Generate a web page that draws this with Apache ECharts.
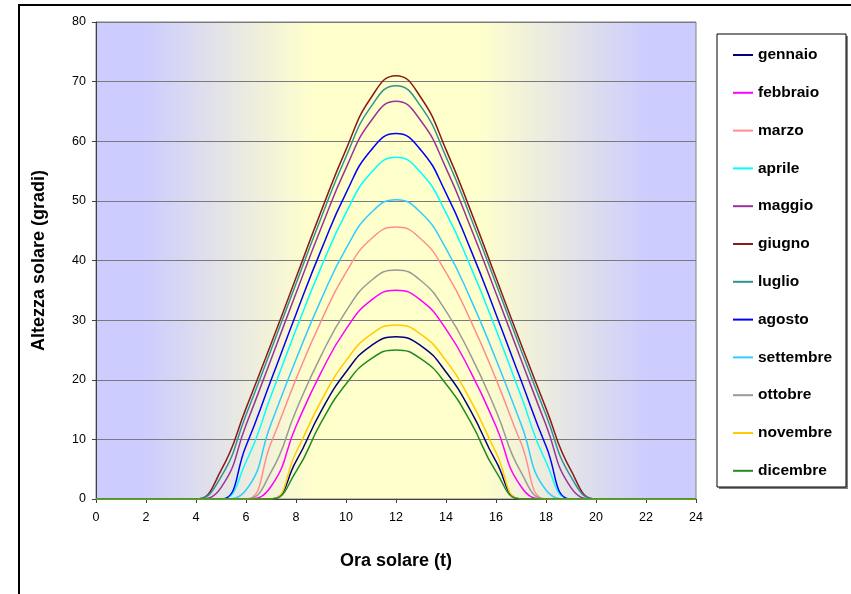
<!DOCTYPE html>
<html>
<head>
<meta charset="utf-8">
<script src="https://cdn.jsdelivr.net/npm/echarts@6/dist/echarts.min.js"></script>
<style>
  html, body { margin: 0; padding: 0; background: #fff; }
  #chart { width: 851px; height: 594px; }
</style>
</head>
<body>
<div id="chart"></div>
<script>
// ore 0..24
const hours = [0,1,2,3,4,5,6,7,8,9,10,11,12,13,14,15,16,17,18,19,20,21,22,23,24];
const xTicks = [0,2,4,6,8,10,12,14,16,18,20,22,24];
const yTicks = [0,10,20,30,40,50,60,70,80];

// altezza solare (gradi), ora per ora
const gennaio   = [0,0,0,0,0,0,0,0,6.3,14.7,21.3,25.7,27.2,25.7,21.3,14.7,6.3,0,0,0,0,0,0,0,0];
const febbraio  = [0,0,0,0,0,0,0,2.1,12.2,21.2,28.5,33.3,35.0,33.3,28.5,21.2,12.2,2.1,0,0,0,0,0,0,0];
const marzo     = [0,0,0,0,0,0,0,9.4,20.1,29.8,38.0,43.6,45.6,43.6,38.0,29.8,20.1,9.4,0,0,0,0,0,0,0];
const aprile    = [0,0,0,0,0,0,6.2,17.3,28.4,38.8,48.0,54.7,57.3,54.7,48.0,38.8,28.4,17.3,6.2,0,0,0,0,0,0];
const maggio    = [0,0,0,0,0,1.9,12.4,23.4,34.5,45.4,55.5,63.4,66.7,63.4,55.5,45.4,34.5,23.4,12.4,1.9,0,0,0,0,0];
const giugno    = [0,0,0,0,0,4.8,15.2,26.0,37.1,48.2,58.6,67.3,71.0,67.3,58.6,48.2,37.1,26.0,15.2,4.8,0,0,0,0,0];
const luglio    = [0,0,0,0,0,3.7,14.1,25.0,36.1,47.1,57.4,65.8,69.3,65.8,57.4,47.1,36.1,25.0,14.1,3.7,0,0,0,0,0];
const agosto    = [0,0,0,0,0,0,8.9,19.9,31.0,41.7,51.3,58.5,61.3,58.5,51.3,41.7,31.0,19.9,8.9,0,0,0,0,0,0];
const settembre = [0,0,0,0,0,0,1.5,12.6,23.4,33.4,42.0,48.0,50.2,48.0,42.0,33.4,23.4,12.6,1.5,0,0,0,0,0,0];
const ottobre   = [0,0,0,0,0,0,0,4.5,14.8,24.0,31.5,36.6,38.4,36.6,31.5,24.0,14.8,4.5,0,0,0,0,0,0,0];
const novembre  = [0,0,0,0,0,0,0,0,7.8,16.4,23.2,27.6,29.2,27.6,23.2,16.4,7.8,0,0,0,0,0,0,0,0];
const dicembre  = [0,0,0,0,0,0,0,0,4.6,12.8,19.3,23.5,25.0,23.5,19.3,12.8,4.6,0,0,0,0,0,0,0,0];

const months = ['gennaio','febbraio','marzo','aprile','maggio','giugno','luglio','agosto','settembre','ottobre','novembre','dicembre'];
const values = [gennaio,febbraio,marzo,aprile,maggio,giugno,luglio,agosto,settembre,ottobre,novembre,dicembre];
const colors = ['#000080','#ff00ff','#ff8f8f','#00ffff','#993399','#8b1a1a','#2e9494','#0000ff','#33ccff','#999999','#ffcc00','#228b22'];

const font = '"Liberation Sans", Arial, sans-serif';

let chartDom = document.getElementById('chart');
let myChart = echarts.init(chartDom);

let series = months.map(function (m, i) {
  return {
    name: m,
    type: 'line',
    smooth: true,
    symbol: 'none',
    color: colors[i],
    lineStyle: { width: 1.5, color: colors[i] },
    data: hours.map(function (h, k) { return [h, values[i][k]]; }),
  };
});

let option = {
  animation: false,
  textStyle: { fontFamily: font },
  graphic: [
    // cornice esterna
    { type: 'rect', shape: { x: 19, y: 5, width: 845, height: 600 },
      style: { fill: 'none', stroke: '#000', lineWidth: 2 }, z: 0 },
    // riquadro legenda con ombra
    { type: 'rect', shape: { x: 719, y: 36, width: 129, height: 453 },
      style: { fill: '#808080' }, z: 0 },
    { type: 'rect', shape: { x: 717, y: 34, width: 129, height: 453 },
      style: { fill: '#fff', stroke: '#000', lineWidth: 1 }, z: 1 },
  ],
  grid: {
    left: 96, right: 155, top: 22, bottom: 95,
    show: true,
    borderColor: '#808080',
    borderWidth: 1,
    backgroundColor: new echarts.graphic.LinearGradient(0, 0, 1, 0, [
      { offset: 0, color: '#ccccff' },
      { offset: 0.08, color: '#ccccff' },
      { offset: 0.36, color: '#ffffcc' },
      { offset: 0.64, color: '#ffffcc' },
      { offset: 0.92, color: '#ccccff' },
      { offset: 1, color: '#ccccff' },
    ]),
  },
  legend: {
    orient: 'vertical',
    left: 732, top: 47,
    padding: 0,
    itemWidth: 20, itemHeight: 14, itemGap: 21.8,
    itemStyle: { opacity: 0 },
    data: months,
    textStyle: { fontFamily: font, fontSize: 15.5, fontWeight: 'bold', color: '#000' },
  },
  xAxis: {
    type: 'value',
    min: 0, max: 24, interval: 2,
    name: 'Ora solare (t)',
    nameLocation: 'middle',
    nameGap: 53,
    nameTextStyle: { fontFamily: font, fontSize: 18, fontWeight: 'bold', color: '#000' },
    axisLine: { lineStyle: { color: '#404040', width: 1 } },
    axisTick: { show: true, length: 4, inside: false, lineStyle: { color: '#404040' } },
    axisLabel: {
      margin: 12, fontSize: 12.5, color: '#000', fontFamily: font,
      formatter: function (v) { return xTicks.indexOf(v) >= 0 ? String(v) : ''; },
    },
    splitLine: { show: false },
  },
  yAxis: {
    type: 'value',
    min: 0, max: 80, interval: 10,
    name: 'Altezza solare (gradi)',
    nameLocation: 'middle',
    nameGap: 48,
    nameTextStyle: { fontFamily: font, fontSize: 18, fontWeight: 'bold', color: '#000' },
    axisLine: { show: true, lineStyle: { color: '#404040', width: 1 } },
    axisTick: { show: true, length: 4, lineStyle: { color: '#404040' } },
    axisLabel: {
      margin: 10, fontSize: 12.5, color: '#000', fontFamily: font,
      formatter: function (v) { return yTicks.indexOf(v) >= 0 ? String(v) : ''; },
    },
    splitLine: { show: true, lineStyle: { color: '#7a7a7a', width: 1 } },
  },
  series: series,
};

myChart.setOption(option);
</script>
</body>
</html>
